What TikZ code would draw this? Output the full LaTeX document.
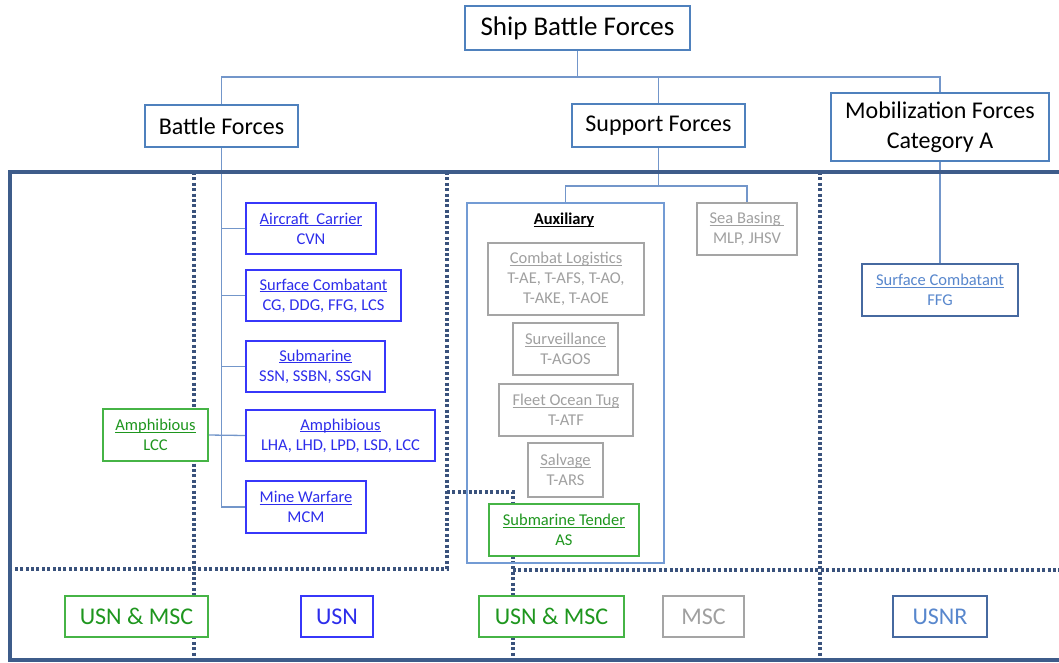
\documentclass[tikz,border=0pt]{standalone}
\usepackage{fontspec}
\setmainfont{Carlito}
\usetikzlibrary{backgrounds}
\definecolor{lineblue}{RGB}{115,150,202}
\definecolor{topblue}{RGB}{79,129,189}
\definecolor{framec}{RGB}{62,92,138}
\definecolor{dotc}{RGB}{58,82,124}
\definecolor{bbord}{RGB}{55,55,250}
\definecolor{btext}{RGB}{45,45,235}
\definecolor{gbord}{RGB}{70,180,70}
\definecolor{gtext}{RGB}{30,150,30}
\definecolor{graybd}{RGB}{165,165,165}
\definecolor{grayt}{RGB}{160,160,160}
\definecolor{navybd}{RGB}{70,105,160}
\definecolor{navyt}{RGB}{88,135,205}
\definecolor{auxc}{RGB}{115,155,212}
\newcommand\uln[1]{\leavevmode\setbox0\hbox{#1}\rlap{\rule[-0.13em]{\wd0}{0.065em}}\box0}
\begin{document}
\begin{tikzpicture}[x=1pt,y=-1pt,
  sz/.style 2 args={minimum width=#1pt,minimum height=#2pt},
  conn/.style={draw=lineblue,line width=1.3pt},
  dots/.style={draw=dotc,line width=3.2pt,dash pattern=on 3pt off 2.4pt},
  frame/.style={draw=framec,line width=3.5pt},
  basebox/.style={draw,fill=white,line width=1.3pt,inner sep=0pt,align=center},
  topbox/.style={basebox,draw=topblue,font=\fontsize{24}{30}\selectfont},
  small/.style={font=\fontsize{16.5}{20}\selectfont},
  big/.style={font=\fontsize{24}{28}\selectfont},
  bluebox/.style={basebox,draw=bbord,text=btext},
  greenbox/.style={basebox,draw=gbord,text=gtext},
  graybox/.style={basebox,draw=graybd,text=grayt},
  navybox/.style={basebox,draw=navybd,text=navyt}]
\useasboundingbox (0,0) rectangle (1059,662);
% top level
\node[topbox,sz={225}{44},font=\fontsize{27}{30}\selectfont] (ship) at (577.5,28) {Ship Battle Forces};
\node[topbox,sz={153}{42}] (bf) at (221.5,126) {Battle Forces};
\node[topbox,sz={173}{43}] (sf) at (658.5,125.5) {Support Forces};
\node[topbox,sz={218}{68}] (mf) at (940,127) {Mobilization Forces\\Category A};
% battle forces
\node[bluebox,small,sz={130}{51}] (ac) at (311,228.5) {\uln{Aircraft~~Carrier}\\CVN};
\node[bluebox,small,sz={155}{51}] (sc) at (323.5,295.5) {\uln{Surface Combatant}\\CG, DDG, FFG, LCS};
\node[bluebox,small,sz={139}{51}] (sub) at (315.5,366.5) {\uln{Submarine}\\SSN, SSBN, SSGN};
\node[bluebox,small,sz={189}{51}] (amb) at (340.5,435.5) {\uln{Amphibious}\\LHA, LHD, LPD, LSD, LCC};
\node[greenbox,small,sz={105}{52}] (amg) at (155.5,435) {\uln{Amphibious}\\LCC};
\node[bluebox,small,sz={120}{52}] (mw) at (306,507) {\uln{Mine Warfare}\\MCM};
% support forces
\node[draw=auxc,line width=1.1pt,sz={197}{360},inner sep=0pt] (aux) at (565.5,383) {};
\node[small,font=\fontsize{16.5}{20}\selectfont\bfseries,inner sep=0pt] (auxt) at (564,220) {\uln{Auxiliary}};
\node[graybox,small,sz={100}{52}] (sb) at (747,229) {\uln{Sea Basing\ }\\MLP, JHSV};
\node[graybox,small,sz={156}{72}] (cl) at (566,279) {\uln{Combat Logistics}\\T-AE, T-AFS, T-AO,\\T-AKE, T-AOE};
\node[graybox,small,sz={105}{52}] (sv) at (565.5,349) {\uln{Surveillance}\\T-AGOS};
\node[graybox,small,sz={134}{52}] (ft) at (566,410) {\uln{Fleet Ocean Tug}\\T-ATF};
\node[graybox,small,sz={75}{54}] (sl) at (565.5,470) {\uln{Salvage}\\T-ARS};
\node[greenbox,small,sz={150}{52}] (st) at (564,530) {\uln{Submarine Tender}\\AS};
% mobilization
\node[navybox,small,sz={156}{52}] (ffg) at (940,290) {\uln{Surface Combatant}\\FFG};
% bottom labels
\node[greenbox,big,sz={143}{41}] (b1) at (136.5,616.5) {USN \& MSC};
\node[bluebox,big,sz={72}{41}] (b2) at (337,616.5) {USN};
\node[greenbox,big,sz={145}{41}] (b3) at (551.5,616.5) {USN \& MSC};
\node[graybox,big,sz={81}{41}] (b4) at (703.5,616.5) {MSC};
\node[navybox,big,sz={94}{41}] (b5) at (940,616.5) {USNR};
\begin{pgfonlayer}{background}
% connectors
\coordinate (bus) at (577.5,77);
\draw[conn] (ship.south) -- (bus);
\draw[conn] (bf.north) |- (bus) -| (mf.north);
\draw[conn] (bus) -| (sf.north);
\draw[conn] (bf.south) |- (mw.west);
\foreach \n in {ac,sc,sub,amb} {\draw[conn] (bf.south |- \n.west) -- (\n.west);}
\draw[conn] (amg.east) -- (amb.west);
\coordinate (sbus) at (658.5,186);
\draw[conn] (sf.south) -- (sbus);
\draw[conn] (aux.north) |- (sbus) -| (sb.north);
\draw[conn] (mf.south) -- (ffg.north);
% dotted dividers
\draw[dots] (194,172) -- (194,660);
\draw[dots] (447,172) -- (447,569) -- (10,569);
\draw[dots] (447,492) -- (513,492) -- (513,660);
\draw[dots] (513,570) -- (1059,570);
\draw[dots] (820,172) -- (820,660);
% frame
\draw[frame] (1064,172) -- (10,172) -- (10,660) -- (1064,660);
\end{pgfonlayer}
\end{tikzpicture}
\end{document}
